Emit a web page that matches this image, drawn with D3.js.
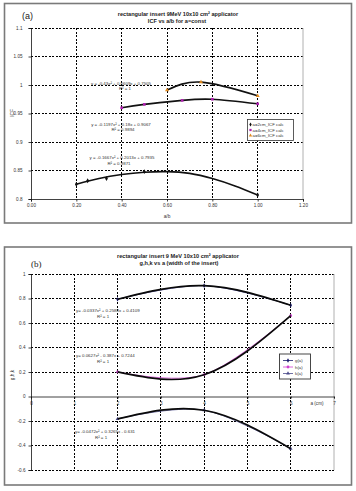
<!DOCTYPE html>
<html>
<head>
<meta charset="utf-8">
<script src="https://cdn.jsdelivr.net/npm/d3@7"></script>
<style>
  body { margin: 0; background: #fff; }
  svg { display: block; font-family: "Liberation Sans", Arial, sans-serif; }
</style>
</head>
<body>
<div id="chart"></div>
<script>
// ---- panel (a) data: ICF vs a/b ----
var abA2 = [0.2, 0.25, 0.333, 0.5, 1.0]
var icfA2 = [0.826, 0.832, 0.836, 0.848, 0.807]
// trendline of the a=2cm series
var abTrend2 = [0.2, 0.3, 0.4, 0.5, 0.6, 0.7, 0.8, 0.9, 1.0]
var icfTrend2 = [0.826, 0.836, 0.843, 0.847, 0.848, 0.845, 0.836, 0.823, 0.807]
var abA4 = [0.4, 0.5, 0.667, 0.8, 1.0]
var icfA4 = [0.96, 0.966, 0.973, 0.975, 0.967]
var abA6 = [0.6, 0.75, 1.0]
var icfA6 = [0.991, 1.005, 0.981]
var legendA = ["a=2cm_ICF calc", "a=4cm_ICF calc", "a=6cm_ICF calc"]
var xTicksA = [0, 0.2, 0.4, 0.6, 0.8, 1.0, 1.2]
var yTicksA = [0.8, 0.85, 0.9, 0.95, 1, 1.05, 1.1]
var eqA = [
  ["y = -0.43x\u00b2 + 0.6609x + 0.7505", "R\u00b2 = 1"],
  ["y = -0.1197x\u00b2 + 0.18x + 0.9067", "R\u00b2 = 0.9894"],
  ["y = -0.1667x\u00b2 + 0.2013x + 0.7935", "R\u00b2 = 0.9871"]
]

// ---- panel (b) data: g,h,k vs a ----
var aVals = [2, 4, 6]
var gVals = [0.794, 0.905, 0.745]
var hVals = [0.201, 0.178, 0.66]
var kVals = [-0.183, -0.112, -0.426]
var legendB = ["g(a)", "h(a)", "k(a)"]
var xTicksB = [0, 1, 2, 3, 4, 5, 6, 7]
var yTicksB = [-0.6, -0.4, -0.2, 0, 0.2, 0.4, 0.6, 0.8, 1]
var eqB = [
  ["y= -0.0337x\u00b2 + 0.2588x + 0.4109", "R\u00b2 = 1"],
  ["y= 0.0627x\u00b2 - 0.387x + 0.7244", "R\u00b2 = 1"],
  ["y= -0.0472x\u00b2 + 0.3265x - 0.631", "R\u00b2 = 1"]
]

var W = 356, H = 491
var svg = d3.select("#chart").append("svg").attr("width", W).attr("height", H)

function zip(xs, ys) { return xs.map(function(x, i) { return [x, ys[i]] }) }

function marker(g, type, x, y, color, size) {
  var sym = {diamond: d3.symbolDiamond, square: d3.symbolSquare, triangle: d3.symbolTriangle, circle: d3.symbolCircle}[type]
  g.append("path")
    .attr("d", d3.symbol().type(sym).size(size)())
    .attr("transform", "translate(" + x + "," + y + ")")
    .attr("fill", color)
}

function frame(y0, y1) {
  svg.append("rect")
    .attr("x", 4.5).attr("y", y0).attr("width", 347).attr("height", y1 - y0)
    .attr("fill", "#fff").attr("stroke", "#7a7a7a").attr("stroke-width", 1.6)
}

function grid(g, x, y, xt, yt, x0) {
  g.selectAll(".vg").data(xt.filter(function(d) { return d != x0 && d != xt[xt.length - 1] }))
    .enter().append("line")
    .attr("x1", function(d) { return x(d) }).attr("x2", function(d) { return x(d) })
    .attr("y1", y.range()[1]).attr("y2", y.range()[0])
    .attr("stroke", "#000").attr("stroke-width", 1).attr("stroke-dasharray", "2,1.5")
    .attr("shape-rendering", "crispEdges")
  g.selectAll(".hg").data(yt)
    .enter().append("line")
    .attr("x1", x.range()[0]).attr("x2", x.range()[1])
    .attr("y1", function(d) { return y(d) }).attr("y2", function(d) { return y(d) })
    .attr("stroke", "#000").attr("stroke-width", 1).attr("stroke-dasharray", "2,1.5")
    .attr("shape-rendering", "crispEdges")
  // right border of plot area
  g.append("line")
    .attr("x1", x.range()[1]).attr("x2", x.range()[1])
    .attr("y1", y.range()[1]).attr("y2", y.range()[0])
    .attr("stroke", "#b0b0b0").attr("stroke-width", 1)
}

/* ================= panel (a) ================= */
frame(3.5, 223)

var xA = d3.scaleLinear().domain([0, 1.2]).range([31, 303])
var yA = d3.scaleLinear().domain([0.8, 1.1]).range([199, 28])
var gA = svg.append("g")

grid(gA, xA, yA, xTicksA, yTicksA.filter(function(d) { return d != 0.8 }), 0)

var xAxisA = d3.axisBottom(xA).tickValues(xTicksA).tickFormat(d3.format(".2f")).tickSize(2.5).tickPadding(2)
var yAxisA = d3.axisLeft(yA).tickValues(yTicksA).tickFormat(function(d) { return String(d) }).tickSize(2.5).tickPadding(6)

gA.append("g").attr("class", "x axis")
  .attr("transform", "translate(0," + yA(0.8) + ")")
  .call(xAxisA)
gA.append("g").attr("class", "y axis")
  .attr("transform", "translate(" + xA(0) + ",0)")
  .call(yAxisA)

gA.append("text").attr("x", 22).attr("y", 19).attr("font-size", 9).attr("fill", "#222").text("(a)")
gA.append("text").attr("x", 178).attr("y", 15.5).attr("text-anchor", "middle")
  .attr("font-size", 5.6).attr("font-weight", "bold").attr("fill", "#222")
  .text("rectangular insert 9MeV 10x10 cm\u00b2 applicator")
gA.append("text").attr("x", 177).attr("y", 23).attr("text-anchor", "middle")
  .attr("font-size", 5.6).attr("font-weight", "bold").attr("fill", "#222")
  .text("ICF vs a/b for a=const")
gA.append("text").attr("x", 167).attr("y", 218).attr("text-anchor", "middle")
  .attr("font-size", 4.8).attr("fill", "#333").text("a/b")
gA.append("text").attr("transform", "translate(13.5,113) rotate(-90)").attr("text-anchor", "middle")
  .attr("font-size", 4.8).attr("fill", "#333").text("ICF")

var lineA = d3.line().x(function(d) { return xA(d[0]) }).y(function(d) { return yA(d[1]) }).curve(d3.curveNatural)

var seriesA = [
  {pts: zip(abA2, icfA2), trend: zip(abTrend2, icfTrend2), mk: "diamond", mc: "#111"},
  {pts: zip(abA4, icfA4), trend: zip(abA4, icfA4), mk: "square", mc: "#b020b0"},
  {pts: zip(abA6, icfA6), trend: zip(abA6, icfA6), mk: "triangle", mc: "#e08a20"}
]
seriesA.forEach(function(s) {
  gA.append("path").datum(s.trend).attr("d", lineA)
    .attr("fill", "none").attr("stroke", "#111").attr("stroke-width", 1.6)
  s.pts.forEach(function(p) { marker(gA, s.mk, xA(p[0]), yA(p[1]), s.mc, 7) })
})

// trendline equations
var eqPosA = [[121, 84.5, 125, 90], [121, 126, 123, 131], [122, 159, 119, 164.5]]
eqA.forEach(function(e, i) {
  gA.append("text").attr("x", eqPosA[i][0]).attr("y", eqPosA[i][1]).attr("text-anchor", "middle")
    .attr("font-size", 4.4).attr("fill", "#333").text(e[0])
  gA.append("text").attr("x", eqPosA[i][2]).attr("y", eqPosA[i][3]).attr("text-anchor", "middle")
    .attr("font-size", 4.4).attr("fill", "#333").text(e[1])
})

// legend (a)
var legA = gA.append("g")
legA.append("rect").attr("x", 247.5).attr("y", 119.5).attr("width", 46).attr("height", 21)
  .attr("fill", "#fff").attr("stroke", "#333").attr("stroke-width", 0.8)
legendA.forEach(function(t, i) {
  var yy = 124.5 + i * 5.5
  marker(legA, seriesA[i].mk, 250.5, yy, seriesA[i].mc, 5)
  legA.append("text").attr("x", 252.5).attr("y", yy + 1.6).attr("font-size", 4.3).attr("fill", "#333").text(t)
})

/* ================= panel (b) ================= */
frame(247, 485)

var xB = d3.scaleLinear().domain([0, 7]).range([31, 334])
var yB = d3.scaleLinear().domain([-0.6, 1]).range([470, 274])
var gB = svg.append("g")

grid(gB, xB, yB, xTicksB, yTicksB.filter(function(d) { return d != 0 }), 0)

var xAxisB = d3.axisBottom(xB).tickValues(xTicksB).tickFormat(d3.format("d")).tickSize(2).tickPadding(3)
var yAxisB = d3.axisLeft(yB).tickValues(yTicksB).tickFormat(function(d) { return String(+d.toFixed(1)) }).tickSize(2.5).tickPadding(3)

gB.append("g").attr("class", "x axis")
  .attr("transform", "translate(0," + yB(0) + ")")
  .call(xAxisB)
gB.append("g").attr("class", "y axis")
  .attr("transform", "translate(" + xB(0) + ",0)")
  .call(yAxisB)

gB.append("text").attr("x", 31).attr("y", 266.5).attr("font-size", 9)
  .attr("font-family", "Liberation Serif, serif").attr("fill", "#222").text("(b)")
gB.append("text").attr("x", 178).attr("y", 257.5).attr("text-anchor", "middle")
  .attr("font-size", 5.6).attr("font-weight", "bold").attr("fill", "#222")
  .text("rectangular insert 9 MeV 10x10 cm\u00b2 applicator")
gB.append("text").attr("x", 179).attr("y", 265).attr("text-anchor", "middle")
  .attr("font-size", 5.6).attr("font-weight", "bold").attr("fill", "#222")
  .text("g,h,k vs a (width of the insert)")
gB.append("text").attr("x", 317).attr("y", 405).attr("text-anchor", "middle")
  .attr("font-size", 4.6).attr("fill", "#333").text("a (cm)")
gB.append("text").attr("transform", "translate(13.5,375) rotate(-90)").attr("text-anchor", "middle")
  .attr("font-size", 4.8).attr("fill", "#333").text("g,h,k")

var trendB = d3.line().x(function(d) { return xB(d[0]) }).y(function(d) { return yB(d[1]) }).curve(d3.curveNatural)
var smoothB = d3.line().x(function(d) { return xB(d[0]) }).y(function(d) { return yB(d[1]) }).curve(d3.curveCatmullRom.alpha(0))

var seriesB = [
  {pts: zip(aVals, gVals), color: "#1c1c6e", mk: "diamond"},
  {pts: zip(aVals, hVals), color: "#d040d0", mk: "circle"},
  {pts: zip(aVals, kVals), color: "#4a4a8a", mk: "triangle"}
]
seriesB.forEach(function(s) {
  gB.append("path").datum(s.pts).attr("d", smoothB)
    .attr("fill", "none").attr("stroke", s.color).attr("stroke-width", 0.8)
  s.pts.forEach(function(p) { marker(gB, s.mk, xB(p[0]), yB(p[1]), s.color, 6) })
  gB.append("path").datum(s.pts).attr("d", trendB)
    .attr("fill", "none").attr("stroke", "#0a0a0a").attr("stroke-width", 1.7)
})

var eqPosB = [[76, 312, 97, 317.5], [76, 356.5, 97, 362.5], [75, 432.5, 95, 438.5]]
eqB.forEach(function(e, i) {
  gB.append("text").attr("x", eqPosB[i][0]).attr("y", eqPosB[i][1])
    .attr("font-size", 4.4).attr("fill", "#333").text(e[0])
  gB.append("text").attr("x", eqPosB[i][2]).attr("y", eqPosB[i][3])
    .attr("font-size", 4.4).attr("fill", "#333").text(e[1])
})

// legend (b)
var legB = gB.append("g")
legB.append("rect").attr("x", 279.5).attr("y", 354).attr("width", 31).attr("height", 25)
  .attr("fill", "#fff").attr("stroke", "#333").attr("stroke-width", 0.9)
legendB.forEach(function(t, i) {
  var yy = 360.5 + i * 6.5
  legB.append("line").attr("x1", 283).attr("x2", 293).attr("y1", yy).attr("y2", yy)
    .attr("stroke", seriesB[i].color).attr("stroke-width", 0.8)
  marker(legB, seriesB[i].mk, 288, yy, seriesB[i].color, 6)
  legB.append("text").attr("x", 295).attr("y", yy + 1.6).attr("font-size", 4.3).attr("fill", "#333").text(t)
})

// axis styling
svg.selectAll(".axis path, .axis line").attr("stroke", "#111").attr("stroke-width", 0.8)
svg.selectAll(".axis text").attr("font-size", 4.6).attr("fill", "#333")
  .attr("font-family", "Liberation Sans, Arial, sans-serif")
</script>
</body>
</html>
